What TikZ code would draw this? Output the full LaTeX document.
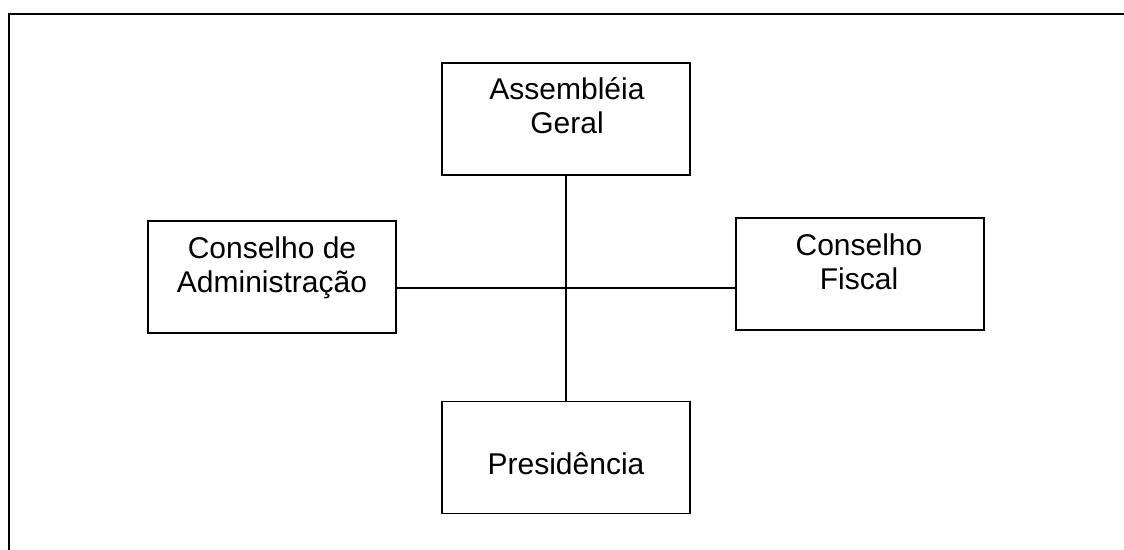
\documentclass[tikz,border=0pt]{standalone}
\usepackage{fontspec}
\setmainfont{Liberation Sans}

\begin{document}
\begin{tikzpicture}[x=0.5pt,y=-0.5pt,
	caixa/.style={draw,line width=0.9pt,minimum width=124pt,minimum height=56pt,inner sep=0pt},
	texto/.style={align=center,inner sep=0pt,anchor=base,font=\fontsize{15}{17}\selectfont},
	ligacao/.style={line width=0.6pt}
	]
	\useasboundingbox (0,0) rectangle (1124,550);
	\clip (0,0) rectangle (1124,550);
	\draw[line width=1.1pt] (9,14) rectangle (1200,600);
	
	\node[caixa] (ag) at (566,119) {};
	\node[caixa] (ca) at (272,277) {};
	\node[caixa] (cf) at (860,274) {};
	\node[caixa] (pr) at (566,457.5) {};
	
	\node[texto] (agt) at (567,134) {Assembléia\\Geral};
	\node[texto] (cat) at (272,292.7) {Conselho de\\Administração};
	\node[texto] (cft) at (859,290) {Conselho\\Fiscal};
	\node[texto] (prt) at (566,474) {Presidência};
	
	\coordinate (cruz) at (566,288);
	\draw[ligacao] (ag.south) -- (pr.north);
	\draw[ligacao] (ca.east |- cruz) -- (cf.west |- cruz);
	
\end{tikzpicture}
\end{document}
